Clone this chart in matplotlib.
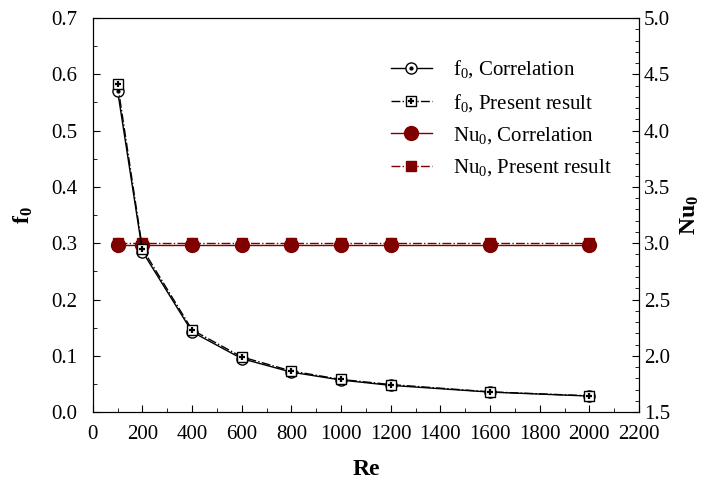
import matplotlib
matplotlib.use("Agg")
import matplotlib.pyplot as plt
from matplotlib.ticker import MultipleLocator
from matplotlib.legend_handler import HandlerTuple

plt.rcParams['font.family'] = ['Liberation Serif', 'DejaVu Serif']
plt.rcParams['mathtext.fontset'] = 'custom'
plt.rcParams['mathtext.rm'] = 'Liberation Serif'
plt.rcParams['mathtext.it'] = 'Liberation Serif'
plt.rcParams['mathtext.bf'] = 'Liberation Serif:bold'

# data
re_vals = [100, 200, 400, 600, 800, 1000, 1200, 1600, 2000]
f0_corr = [0.570, 0.285, 0.1425, 0.095, 0.071, 0.057, 0.0475, 0.0356, 0.0285]
f0_pres = [0.582, 0.290, 0.146, 0.098, 0.073, 0.058, 0.049, 0.036, 0.029]
nu0_corr = [2.98, 2.98, 2.98, 2.98, 2.98, 2.98, 2.98, 2.98, 2.98]
nu0_pres = [3.00, 3.00, 3.00, 3.00, 3.00, 3.00, 3.00, 3.00, 3.00]

red = '#800000'

fig, ax = plt.subplots(figsize=(7.14, 4.86), dpi=100)
fig.subplots_adjust(left=0.13, right=0.895, top=0.963, bottom=0.152)
ax2 = ax.twinx()

# Nu0 on right axis
n1, = ax2.plot(re_vals, nu0_corr, '-', color=red, lw=1, marker='o', ms=10, mfc=red, mec=red)
n2, = ax2.plot(re_vals, nu0_pres, '-.', color=red, lw=1, marker='s', ms=7.5, mfc=red, mec=red)

# f0 on left axis
l1, = ax.plot(re_vals, f0_corr, '-', color='black', lw=1, marker='o', ms=8, mfc='white', mec='black', mew=1)
d1, = ax.plot(re_vals, f0_corr, ' ', marker='.', ms=4, color='black')
l2, = ax.plot(re_vals, f0_pres, '-.', color='black', lw=1, marker='s', ms=7, mfc='white', mec='black', mew=1)
d2, = ax.plot(re_vals, f0_pres, ' ', marker='+', ms=4.5, mew=1.6, color='black')
ax.set_zorder(ax2.get_zorder() + 1)
ax.patch.set_visible(False)

ax.set_xlim(0, 2200)
ax.set_ylim(0, 0.7)
ax2.set_ylim(1.5, 5.0)
ax.xaxis.set_major_locator(MultipleLocator(200))
ax.xaxis.set_minor_locator(MultipleLocator(100))
ax.yaxis.set_major_locator(MultipleLocator(0.1))
ax.yaxis.set_minor_locator(MultipleLocator(0.05))
ax2.yaxis.set_major_locator(MultipleLocator(0.5))
ax2.yaxis.set_minor_locator(MultipleLocator(0.1))
ax.yaxis.set_major_formatter(plt.FormatStrFormatter('%.1f'))
ax2.yaxis.set_major_formatter(plt.FormatStrFormatter('%.1f'))

ax.tick_params(which='both', direction='in', labelsize=15)
ax.tick_params(which='major', length=5)
ax.tick_params(which='minor', length=3)
ax.tick_params(axis='x', which='major', pad=9)
ax.tick_params(axis='y', which='major', pad=11)
ax2.tick_params(which='both', direction='in', labelsize=15)
ax2.tick_params(which='major', length=5)
ax2.tick_params(which='minor', length=3)

ax.set_xlabel('Re', fontsize=17, fontweight='bold', labelpad=11)
ax.set_ylabel(r'$\mathbf{f_0}$', fontsize=17, labelpad=12)
ax2.set_ylabel(r'$\mathbf{Nu_0}$', fontsize=17, labelpad=6)

handles = [(l1, d1), (l2, d2), n1, n2]
labels = [r'f$_0$, Correlation', r'f$_0$, Present result',
          r'Nu$_0$, Correlation', r'Nu$_0$, Present result']
ax.legend(handles, labels, handler_map={tuple: HandlerTuple(ndivide=1)},
          loc='upper right', bbox_to_anchor=(0.985, 0.945), frameon=False,
          fontsize=15, handlelength=2.0, labelspacing=0.55, handletextpad=1.0)

fig.savefig('out.png', dpi=100)
